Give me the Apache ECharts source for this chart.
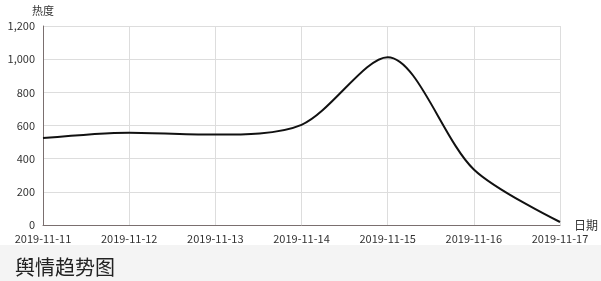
<!DOCTYPE html>
<html><head><meta charset="utf-8">
<script src="https://cdn.jsdelivr.net/npm/echarts@6/dist/echarts.min.js"></script>
<style>html,body{margin:0;padding:0;background:#fff}#c{width:601px;height:281px}</style>
</head><body><div id="c"></div>
<script>
const categories = ['2019-11-11','2019-11-12','2019-11-13','2019-11-14','2019-11-15','2019-11-16','2019-11-17'];
const heat = [524, 557, 545, 604, 1012, 335, 18];
const titleText = '舆情趋势图';
const font = '"Microsoft YaHei","Noto Sans CJK SC","Noto Sans",sans-serif';
const chart = echarts.init(document.getElementById('c'), null, {renderer:'canvas'});
chart.setOption({
  animation:false,
  backgroundColor:'#fff',
  graphic:[{type:'rect',left:0,top:245,shape:{width:601,height:36},style:{fill:'#f4f4f4'},z:-10}],
  title:{text:titleText,left:10,top:252,textStyle:{fontFamily:'"Noto Sans CJK SC",serif',fontSize:20,fontWeight:'normal',color:'#222'}},
  grid:{left:43,right:40,top:26,bottom:56},
  xAxis:{type:'category',data:categories,boundaryGap:false,name:'日期',nameGap:14,
    nameTextStyle:{color:'#333',fontSize:12,fontFamily:font,verticalAlign:'top',padding:[-6,0,0,0]},
    axisLine:{lineStyle:{color:'#7a6f6f'}},axisTick:{show:false},
    axisLabel:{color:'#333',fontSize:11,fontFamily:font,margin:8},
    splitLine:{show:true,lineStyle:{color:'#ddd'}}},
  yAxis:{type:'value',min:0,max:1200,interval:200,name:'热度',nameGap:10,
    nameTextStyle:{color:'#333',fontSize:11,fontFamily:font},
    axisLine:{show:true,lineStyle:{color:'#7a6f6f'}},axisTick:{show:false},
    axisLabel:{color:'#333',fontSize:11,fontFamily:font,margin:8},
    splitLine:{lineStyle:{color:'#ddd'}}},
  series:[{type:'line',data:heat,smooth:0.3,showSymbol:false,lineStyle:{color:'#111',width:2}}]
});
</script></body></html>
